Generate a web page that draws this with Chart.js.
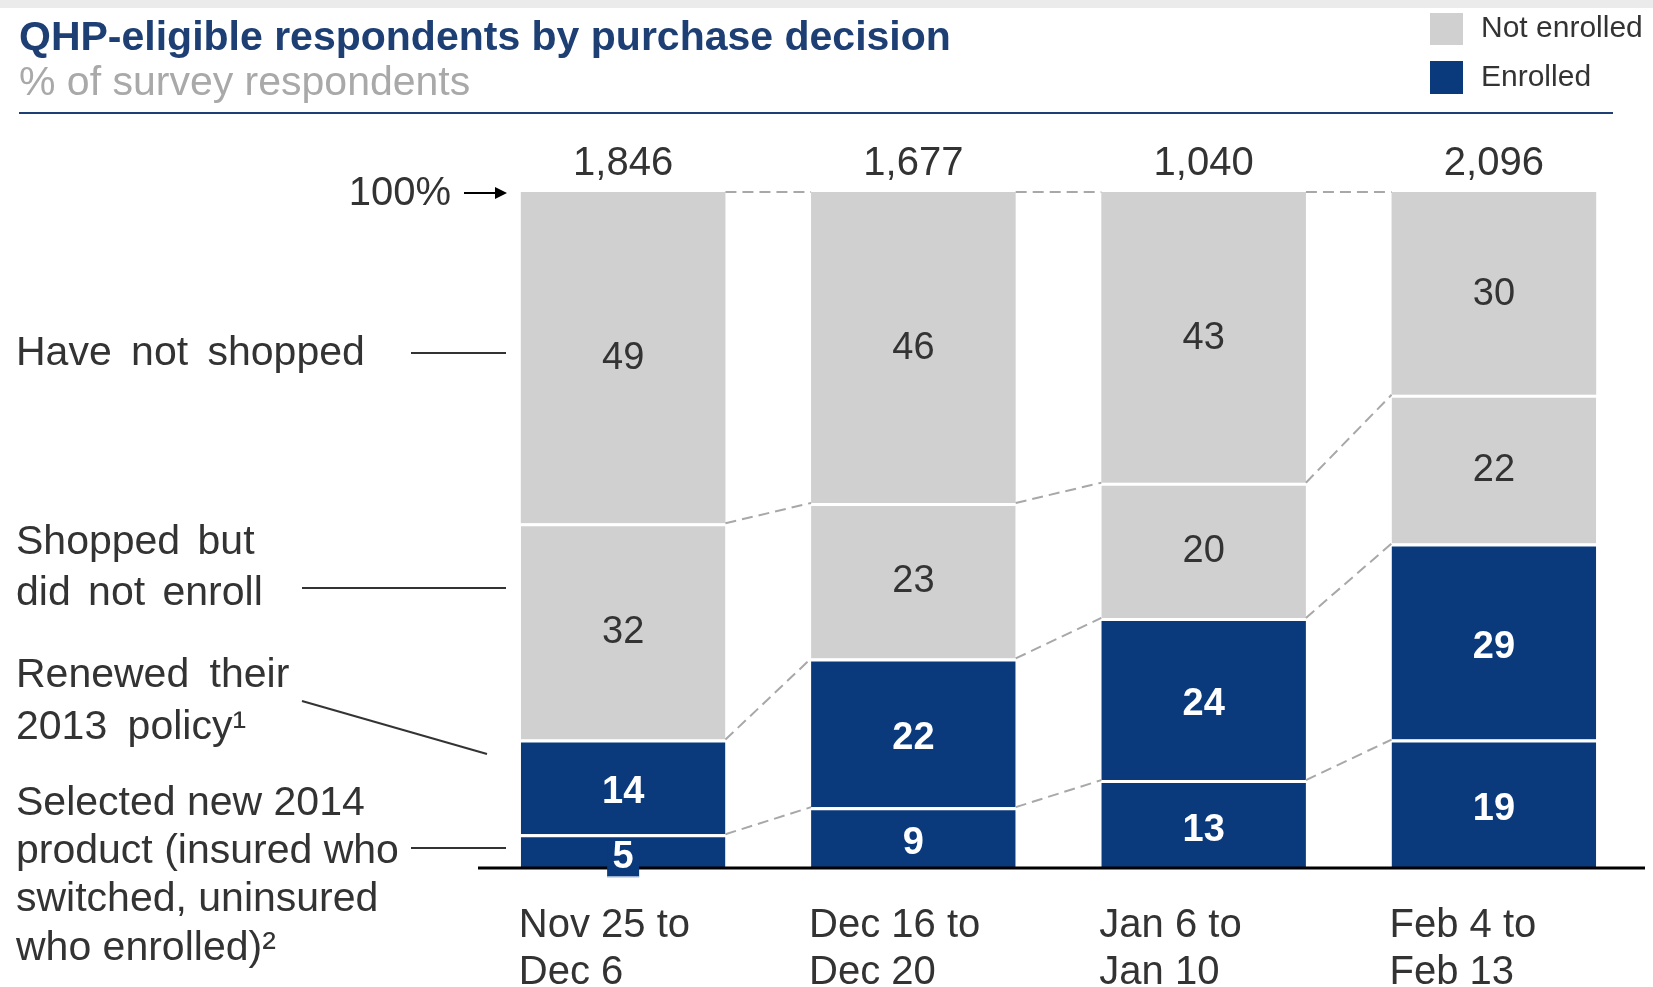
<!DOCTYPE html>
<html>
<head>
<meta charset="utf-8">
<title>QHP-eligible respondents by purchase decision</title>
<script src="https://cdn.jsdelivr.net/npm/chart.js@4.4.1/dist/chart.umd.min.js"></script>
<style>
  html, body { margin: 0; padding: 0; background: #fff; }
  canvas { display: block; }
</style>
</head>
<body>
<canvas id="qhpChart" width="1653" height="987"></canvas>
<script>
// survey waves and stacked shares (% of respondents)
const categories = [['Nov 25 to', 'Dec 6'], ['Dec 16 to', 'Dec 20'], ['Jan 6 to', 'Jan 10'], ['Feb 4 to', 'Feb 13']];
const respondents = ['1,846', '1,677', '1,040', '2,096'];
const selectedNew = [5, 9, 13, 19];
const renewed = [14, 22, 24, 29];
const shoppedNotEnrolled = [32, 23, 20, 22];
const notShopped = [49, 46, 43, 30];
const legendItems = ['Not enrolled', 'Enrolled'];
const sideLabels = [
    ['Have not shopped'],
    ['Shopped but', 'did not enroll'],
    ['Renewed their', '2013 policy\u00B9'],
    ['Selected new 2014', 'product (insured who', 'switched, uninsured', 'who enrolled)\u00B2']
];

const NAVY = '#0a3a7c';
const GREY = '#d0d0d0';
const TEXT = '#333333';
const FONT = '"Liberation Sans", Arial, sans-serif';

function font(size, bold) {
    return (bold ? 'bold ' : '') + size + 'px ' + FONT;
}

// everything that is not a bar: headings, legend, side labels, leaders, value labels
const decorations = {
    id: 'decorations',
    beforeDraw(chart) {
        const ctx = chart.ctx;
        ctx.save();
        ctx.fillStyle = '#ebebeb';
        ctx.fillRect(0, 0, chart.width, 8);

        ctx.textBaseline = 'alphabetic';
        ctx.textAlign = 'left';
        ctx.fillStyle = '#1d3f74';
        ctx.font = font(41, true);
        ctx.fillText('QHP-eligible respondents by purchase decision', 19, 50);
        ctx.fillStyle = '#a9a9a9';
        ctx.font = font(41, false);
        ctx.fillText('% of survey respondents', 19, 95);

        ctx.strokeStyle = '#1d3f74';
        ctx.lineWidth = 2;
        ctx.beginPath();
        ctx.moveTo(19, 113);
        ctx.lineTo(1613, 113);
        ctx.stroke();

        // legend
        ctx.fillStyle = GREY;
        ctx.fillRect(1430, 13, 33, 32);
        ctx.fillStyle = NAVY;
        ctx.fillRect(1430, 61, 33, 33);
        ctx.fillStyle = TEXT;
        ctx.font = font(30, false);
        ctx.textBaseline = 'middle';
        ctx.fillText(legendItems[0], 1481, 29);
        ctx.fillText(legendItems[1], 1481, 78);
        ctx.restore();
    },
    afterDatasetsDraw(chart) {
        const ctx = chart.ctx;
        const area = chart.chartArea;
        ctx.save();

        // dashed connectors between matching segment tops
        ctx.strokeStyle = '#a8a8a8';
        ctx.lineWidth = 2;
        ctx.setLineDash([11, 6]);
        chart.data.datasets.forEach((ds, d) => {
            const bars = chart.getDatasetMeta(d).data;
            for (let i = 0; i < bars.length - 1; i++) {
                const a = bars[i], b = bars[i + 1];
                ctx.beginPath();
                ctx.moveTo(a.x + a.width / 2, a.y);
                ctx.lineTo(b.x - b.width / 2, b.y);
                ctx.stroke();
            }
        });
        ctx.setLineDash([]);

        // baseline
        ctx.strokeStyle = '#000';
        ctx.lineWidth = 3;
        ctx.beginPath();
        ctx.moveTo(area.left, area.bottom);
        ctx.lineTo(1645, area.bottom);
        ctx.stroke();

        // values inside segments
        ctx.textAlign = 'center';
        ctx.textBaseline = 'middle';
        chart.data.datasets.forEach((ds, d) => {
            const enrolled = d < 2;
            chart.getDatasetMeta(d).data.forEach((bar, i) => {
                const cy = (bar.y + bar.base) / 2;
                if (enrolled && ds.data[i] < 8) {
                    ctx.fillStyle = NAVY;
                    ctx.fillRect(bar.x - 16, cy - 12, 32, 38);
                    ctx.strokeStyle = '#c9d6ea';
                    ctx.lineWidth = 1.5;
                    ctx.beginPath();
                    ctx.moveTo(bar.x - 16, cy + 26);
                    ctx.lineTo(bar.x + 16, cy + 26);
                    ctx.stroke();
                }
                ctx.fillStyle = enrolled ? '#ffffff' : TEXT;
                ctx.font = font(38, enrolled);
                ctx.fillText(String(ds.data[i]), bar.x, cy + (enrolled ? 6 : 1));
            });
        });

        // respondent counts and wave labels
        const top = chart.getDatasetMeta(0).data;
        ctx.fillStyle = TEXT;
        top.forEach((bar, i) => {
            ctx.font = font(40, false);
            ctx.textAlign = 'center';
            ctx.fillText(respondents[i], bar.x, 164);
            ctx.textAlign = 'left';
            categories[i].forEach((line, k) => {
                ctx.fillText(line, bar.x - bar.width / 2 - 2, 926 + k * 47);
            });
        });

        // 100% marker
        ctx.textAlign = 'right';
        ctx.fillText('100%', 451, 194);
        ctx.strokeStyle = '#000';
        ctx.lineWidth = 2;
        ctx.beginPath();
        ctx.moveTo(464, 193);
        ctx.lineTo(500, 193);
        ctx.stroke();
        ctx.fillStyle = '#000';
        ctx.beginPath();
        ctx.moveTo(507, 193);
        ctx.lineTo(495, 187);
        ctx.lineTo(495, 199);
        ctx.closePath();
        ctx.fill();

        // side labels with leader lines
        ctx.fillStyle = TEXT;
        ctx.textAlign = 'left';
        ctx.font = font(41, false);
        const sideY = [[354], [543, 594], [676, 728], [804, 852, 900, 949]];
        const spacing = ['8px', '6px', '9px', '0px'];
        sideLabels.forEach((lines, s) => {
            ctx.wordSpacing = spacing[s];
            lines.forEach((line, k) => ctx.fillText(line, 16, sideY[s][k]));
        });
        ctx.wordSpacing = '0px';
        ctx.strokeStyle = TEXT;
        ctx.lineWidth = 2;
        const leaders = [[411, 353, 506, 353], [302, 588, 506, 588], [302, 701, 487, 754], [411, 848, 506, 848]];
        leaders.forEach(l => {
            ctx.beginPath();
            ctx.moveTo(l[0], l[1]);
            ctx.lineTo(l[2], l[3]);
            ctx.stroke();
        });
        ctx.restore();
    }
};

function segment(label, data, color, topBorder) {
    return {
        label: label,
        data: data,
        backgroundColor: color,
        borderColor: '#ffffff',
        borderWidth: { top: topBorder, bottom: 0, left: 0, right: 0 },
        borderSkipped: false,
        categoryPercentage: 1,
        barPercentage: 0.705
    };
}

const ctx = document.getElementById('qhpChart').getContext('2d');
new Chart(ctx, {
    type: 'bar',
    data: {
        labels: categories,
        datasets: [
            segment('Selected new 2014 product', selectedNew, NAVY, 3),
            segment('Renewed their 2013 policy', renewed, NAVY, 3),
            segment('Shopped but did not enroll', shoppedNotEnrolled, GREY, 3),
            segment('Have not shopped', notShopped, GREY, 0)
        ]
    },
    options: {
        responsive: false,
        animation: false,
        devicePixelRatio: 1,
        layout: { padding: { left: 478, right: 14, top: 192, bottom: 119 } },
        plugins: {
            legend: { display: false },
            tooltip: { enabled: false }
        },
        scales: {
            x: { stacked: true, display: false },
            y: { stacked: true, display: false, min: 0, max: 100 }
        }
    },
    plugins: [decorations]
});
</script>
</body>
</html>
